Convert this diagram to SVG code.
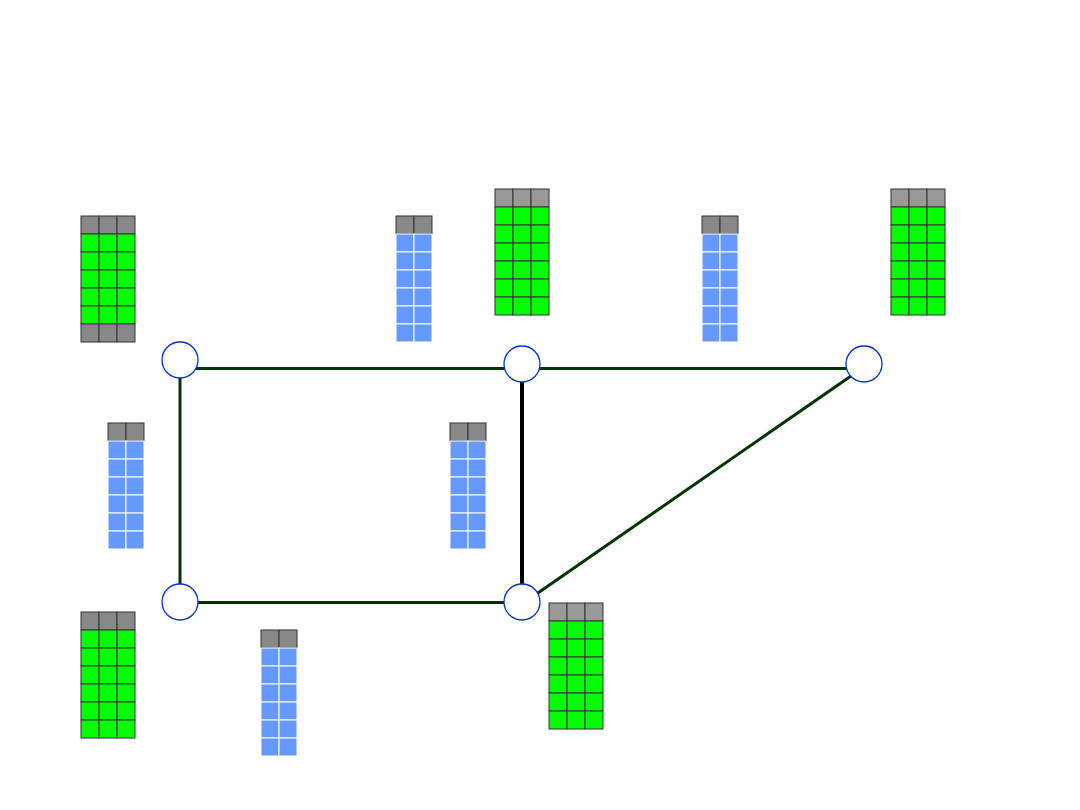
<svg xmlns="http://www.w3.org/2000/svg" width="1080" height="810" viewBox="0 0 1080 810">
<style>
.g{fill:#00ff00;stroke:#333;stroke-width:1}
.h{fill:#888;stroke:#333;stroke-width:1}
.h2{fill:#999;stroke:#333;stroke-width:1}
.b{fill:#6699ff;stroke:#fff;stroke-width:1}
.e{stroke:#003300;stroke-width:3;fill:none}
.k{stroke:#000;stroke-width:4;fill:none}
.n{fill:#fff;stroke:#0033cc;stroke-width:1.3}
</style>
<defs>
<g id="gr"><rect class="g" x="0" y="0" width="18" height="18"/><rect class="g" x="18" y="0" width="18" height="18"/><rect class="g" x="36" y="0" width="18" height="18"/></g>
<g id="hr"><rect class="h" x="0" y="0" width="18" height="18"/><rect class="h" x="18" y="0" width="18" height="18"/><rect class="h" x="36" y="0" width="18" height="18"/></g>
<g id="hr2"><rect class="h2" x="0" y="0" width="18" height="18"/><rect class="h2" x="18" y="0" width="18" height="18"/><rect class="h2" x="36" y="0" width="18" height="18"/></g>
<g id="green6"><use href="#gr" y="18"/><use href="#gr" y="36"/><use href="#gr" y="54"/><use href="#gr" y="72"/><use href="#gr" y="90"/><use href="#gr" y="108"/></g>
<g id="br"><rect class="b" x="0" y="0" width="18" height="18"/><rect class="b" x="18" y="0" width="18" height="18"/></g>
<g id="blue"><rect class="h" x="0" y="0" width="18" height="18"/><rect class="h" x="18" y="0" width="18" height="18"/><use href="#br" y="18"/><use href="#br" y="36"/><use href="#br" y="54"/><use href="#br" y="72"/><use href="#br" y="90"/><use href="#br" y="108"/></g>
</defs>
<rect width="1080" height="810" fill="#fff"/>
<g id="connectors">
<line class="e" x1="180" y1="368.5" x2="522" y2="368.5"/>
<line class="e" x1="522" y1="368.5" x2="864" y2="368.5"/>
<line class="e" x1="180" y1="360" x2="180" y2="602"/>
<line class="e" x1="180" y1="602.5" x2="522" y2="602.5"/>
<line class="k" x1="522" y1="364" x2="522" y2="602"/>
<line class="e" x1="522" y1="604" x2="864" y2="367"/>
</g>
<g id="node1"><circle class="n" cx="180" cy="360" r="18"/></g>
<g id="node2"><circle class="n" cx="522" cy="364" r="18"/></g>
<g id="node3"><circle class="n" cx="864" cy="364" r="18"/></g>
<g id="node4"><circle class="n" cx="180" cy="602" r="18"/></g>
<g id="node5"><circle class="n" cx="522" cy="602" r="18"/></g>
<g id="table1" transform="translate(81,216)"><use href="#hr"/><g><use href="#gr" y="18"/><use href="#gr" y="36"/><use href="#gr" y="54"/><use href="#gr" y="72"/><use href="#gr" y="90"/></g><use href="#hr" y="108"/></g>
<g id="table2" transform="translate(495,189)"><use href="#hr2"/><use href="#green6"/></g>
<g id="table3" transform="translate(891,189)"><use href="#hr2"/><use href="#green6"/></g>
<g id="table4" transform="translate(81,612)"><use href="#hr"/><use href="#green6"/></g>
<g id="table5" transform="translate(549,603)"><use href="#hr2"/><use href="#green6"/></g>
<g id="blue1" transform="translate(396,216)"><use href="#blue"/></g>
<g id="blue2" transform="translate(702,216)"><use href="#blue"/></g>
<g id="blue3" transform="translate(108,423)"><use href="#blue"/></g>
<g id="blue4" transform="translate(450,423)"><use href="#blue"/></g>
<g id="blue5" transform="translate(261,630)"><use href="#blue"/></g>
</svg>
